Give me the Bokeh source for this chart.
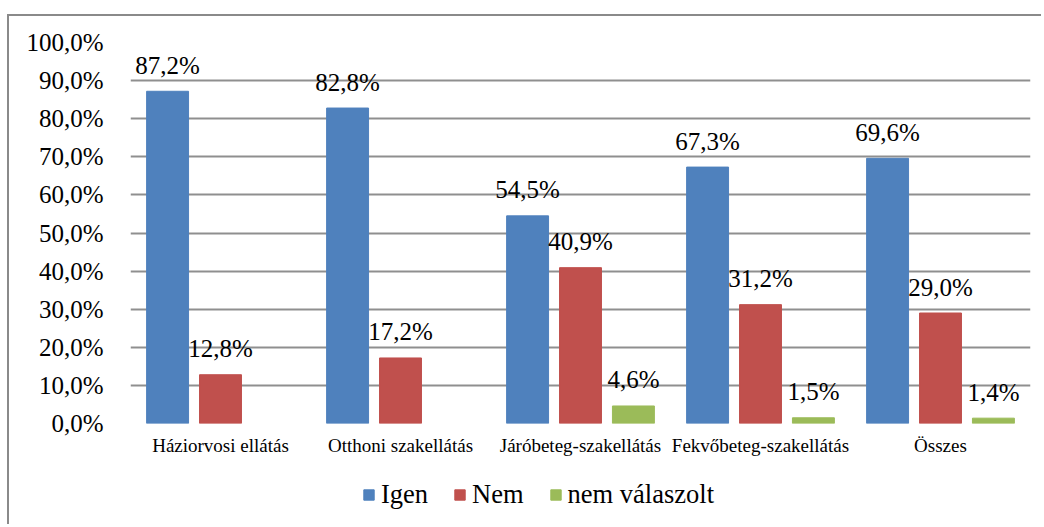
import math
from bokeh.plotting import figure
from bokeh.layouts import column, row
from bokeh.models import (ColumnDataSource, FactorRange, Legend, LegendItem,
                          CustomJSTickFormatter, FixedTicker, Range1d, Spacer)
from bokeh.transform import dodge
from bokeh.core.properties import value
from bokeh.embed import file_html
from bokeh.resources import INLINE

categories = ["Háziorvosi ellátás", "Otthoni szakellátás", "Járóbeteg-szakellátás",
              "Fekvőbeteg-szakellátás", "Összes"]
series_names = ["Igen", "Nem", "nem válaszolt"]
igen = [87.2, 82.8, 54.5, 67.3, 69.6]
nem = [12.8, 17.2, 40.9, 31.2, 29.0]
nem_valaszolt = [float("nan"), float("nan"), 4.6, 1.5, 1.4]
colors = ["#4F81BD", "#C0504D", "#9BBB59"]
y_ticks = [0, 10, 20, 30, 40, 50, 60, 70, 80, 90, 100]

FONT = "Liberation Serif"
NAN = float("nan")


def fmt(v):
    if v is None or (isinstance(v, float) and math.isnan(v)):
        return ""
    return ("%.1f" % v).replace(".", ",") + "%"


src = ColumnDataSource(dict(
    cat=categories,
    igen=igen, nem=nem, nv=nem_valaszolt,
    igen_l=[fmt(v) for v in igen],
    nem_l=[fmt(v) for v in nem],
    nv_l=[fmt(v) for v in nem_valaszolt],
))

W = 1034
p = figure(width=W, height=450, x_range=FactorRange(factors=categories, range_padding=0),
           y_range=Range1d(0, 100), output_backend="svg", toolbar_location=None,
           min_border_left=121, min_border_right=13, min_border_top=26, min_border_bottom=43)
p.outline_line_color = None
p.background_fill_color = "white"
p.border_fill_color = "white"

offsets = [-0.294, 0.0, 0.294]
fields = ["igen", "nem", "nv"]
for off, fld, col in zip(offsets, fields, colors):
    p.vbar(x=dodge("cat", off, range=p.x_range), top=fld, width=0.233, bottom=0,
           source=src, fill_color=col, line_color=col, line_width=1)
    p.text(x=dodge("cat", off, range=p.x_range), y=fld, text=fld + "_l", source=src,
           text_font=value(FONT), text_font_size="25px", text_color="black",
           text_align="center", text_baseline="alphabetic", y_offset=-26)

# grid
p.xgrid.grid_line_color = None
p.ygrid.grid_line_color = "#8f8f8f"
p.ygrid.grid_line_width = 2
p.ygrid.ticker = FixedTicker(ticks=y_ticks)

# y axis
p.yaxis.ticker = FixedTicker(ticks=y_ticks)
p.yaxis.formatter = CustomJSTickFormatter(code="return tick.toFixed(1).replace('.', ',') + '%';")
p.yaxis.axis_line_color = None
p.yaxis.major_tick_line_color = None
p.yaxis.minor_tick_line_color = None
p.yaxis.major_tick_out = 0
p.yaxis.major_tick_in = 0
p.yaxis.minor_tick_out = 0
p.yaxis.major_label_text_font = FONT
p.yaxis.major_label_text_font_size = "25px"
p.yaxis.major_label_text_color = "black"
p.yaxis.major_label_standoff = 27

# x axis
p.xaxis.axis_line_color = None
p.xaxis.major_tick_line_color = None
p.xaxis.minor_tick_line_color = None
p.xaxis.major_tick_out = 0
p.xaxis.major_tick_in = 0
p.xaxis.major_label_text_font = FONT
p.xaxis.major_label_text_font_size = "19px"
p.xaxis.major_label_text_color = "black"
p.xaxis.major_label_standoff = 11

# legend strip (separate figure so that nothing is clipped)
lg = figure(width=W, height=60, x_range=Range1d(0, 1), y_range=Range1d(0, 1),
            output_backend="svg", toolbar_location=None, min_border=0)
lg.axis.visible = False
lg.grid.visible = False
lg.outline_line_color = None
lg.border_fill_color = "white"
lg_renderers = []
for col in colors:
    lg_renderers.append(lg.vbar(x=[NAN], top=[NAN], width=0.1, fill_color=col, line_color=col))

legend = Legend(items=[LegendItem(label=n, renderers=[r]) for n, r in zip(series_names, lg_renderers)],
                orientation="horizontal", location=(232, 16))
legend.label_text_font = FONT
legend.label_text_font_size = "26.5px"
legend.label_text_color = "black"
legend.glyph_width = 13
legend.glyph_height = 13
legend.label_standoff = 6
legend.spacing = 25
legend.padding = 0
legend.margin = 0
legend.border_line_color = None
legend.background_fill_alpha = 0
lg.add_layout(legend, "center")

chart = column(p, lg, spacing=0, styles={"box-shadow": "-2px -2px 0 0 #8a8a8a"})
page = column(Spacer(width=W + 9, height=16),
              row(Spacer(width=9, height=510), chart, spacing=0),
              spacing=0)

open("out.html", "w").write(file_html(page, INLINE))
